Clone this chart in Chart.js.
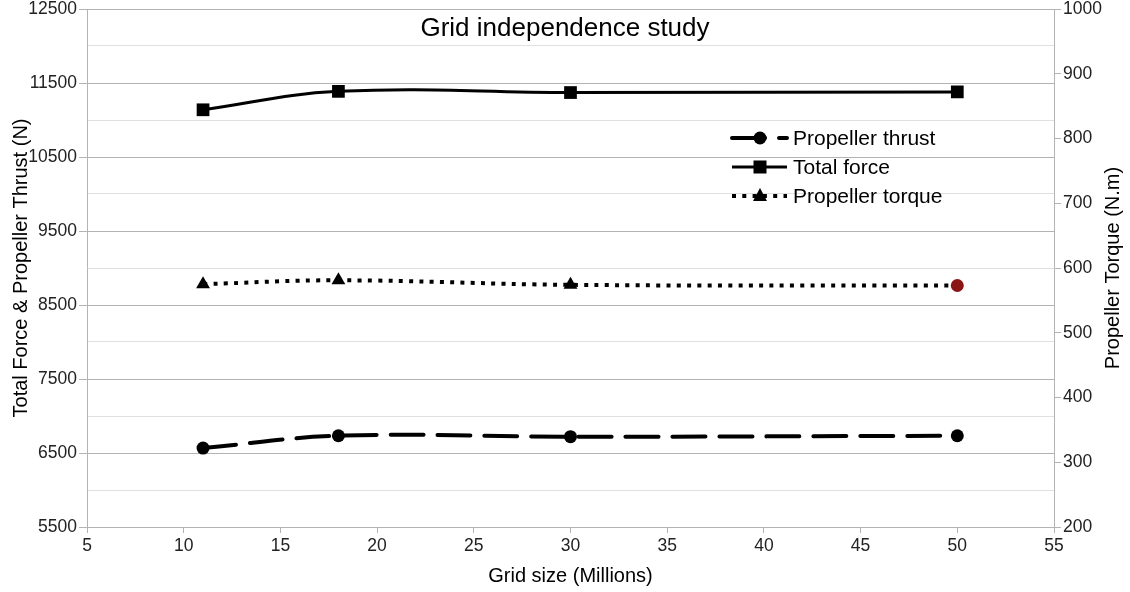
<!DOCTYPE html>
<html>
<head>
<meta charset="utf-8">
<title>Grid independence study</title>
<script src="https://cdn.jsdelivr.net/npm/chart.js@4.4.1/dist/chart.umd.min.js"></script>
<style>
  html, body { margin: 0; padding: 0; background: #fff; }
  #wrap { width: 1130px; height: 592px; }
</style>
</head>
<body>
<div id="wrap"><canvas id="chart" width="1130" height="592"></canvas></div>
<script>
// data
const gridSizes = [11, 18, 30, 50];
const thrust = [6567, 6733, 6720, 6733];
const totalForce = [11138, 11387, 11371, 11380];
const torque = [575, 581, 574, 573];

const FONT = "'Liberation Sans', Arial, sans-serif";
const MAJOR = '#b3b3b3';
const MINOR = '#e0e0e0';

// title, legend and right axis title drawn by hand
const overlayPlugin = {
  id: 'overlay',
  afterDraw(chart) {
    const ctx = chart.ctx;
    ctx.save();
    ctx.fillStyle = '#000';
    ctx.font = `26px ${FONT}`;
    ctx.textAlign = 'center';
    ctx.textBaseline = 'middle';
    ctx.fillText('Grid independence study', 565, 29);

    // right axis title reads bottom to top, like the left one
    const area = chart.chartArea;
    ctx.save();
    ctx.translate(1113, (area.top + area.bottom) / 2);
    ctx.rotate(-Math.PI / 2);
    ctx.font = `20px ${FONT}`;
    ctx.fillText('Propeller Torque (N.m)', 0, 0);
    ctx.restore();

    const rows = [138, 167, 196];
    chart.data.datasets.forEach((ds, i) => {
      const y = rows[i];
      ctx.save();
      ctx.strokeStyle = '#000';
      ctx.lineWidth = ds.borderWidth;
      ctx.setLineDash(ds.borderDash || []);
      ctx.lineCap = ds.borderCapStyle || 'butt';
      ctx.beginPath();
      ctx.moveTo(732, y);
      ctx.lineTo(787, y);
      ctx.stroke();
      ctx.restore();
      drawMarker(ctx, ds.legendStyle, 760, y);
      ctx.fillStyle = '#000';
      ctx.font = `21px ${FONT}`;
      ctx.textAlign = 'left';
      ctx.textBaseline = 'middle';
      ctx.fillText(ds.label, 793, y + 1);
    });
    ctx.restore();
  }
};

function drawMarker(ctx, style, x, y) {
  ctx.save();
  ctx.fillStyle = '#000';
  ctx.beginPath();
  if (style === 'circle') {
    ctx.arc(x, y, 6.5, 0, Math.PI * 2);
  } else if (style === 'rect') {
    ctx.rect(x - 6.5, y - 6.5, 13, 13);
  } else {
    ctx.moveTo(x, y - 8);
    ctx.lineTo(x + 7, y + 5);
    ctx.lineTo(x - 7, y + 5);
    ctx.closePath();
  }
  ctx.fill();
  ctx.restore();
}

const ctx = document.getElementById('chart').getContext('2d');
new Chart(ctx, {
  type: 'line',
  data: {
    datasets: [
      {
        label: 'Propeller thrust',
        data: gridSizes.map((x, i) => ({ x, y: thrust[i] })),
        yAxisID: 'y',
        borderColor: '#000',
        borderWidth: 4,
        borderDash: [33, 14],
        borderCapStyle: 'round',
        tension: 0.4,
        pointStyle: 'circle',
        pointRadius: 6.5,
        pointBackgroundColor: '#000',
        pointBorderColor: '#000',
        pointBorderWidth: 0,
        legendStyle: 'circle'
      },
      {
        label: 'Total force',
        data: gridSizes.map((x, i) => ({ x, y: totalForce[i] })),
        yAxisID: 'y',
        borderColor: '#000',
        borderWidth: 3,
        tension: 0.4,
        pointStyle: 'rect',
        pointRadius: 9,
        pointBackgroundColor: '#000',
        pointBorderColor: '#000',
        pointBorderWidth: 0,
        legendStyle: 'rect'
      },
      {
        label: 'Propeller torque',
        data: gridSizes.map((x, i) => ({ x, y: torque[i] })),
        yAxisID: 'y1',
        borderColor: '#000',
        borderWidth: 4,
        borderDash: [4, 6.3],
        tension: 0.4,
        pointStyle: ['triangle', 'triangle', 'triangle', 'circle'],
        pointRadius: [8, 8, 8, 6.5],
        pointBackgroundColor: ['#000', '#000', '#000', '#8b1414'],
        pointBorderColor: ['#000', '#000', '#000', '#7a1010'],
        pointBorderWidth: 0,
        legendStyle: 'triangle'
      }
    ]
  },
  options: {
    responsive: false,
    animation: false,
    layout: { padding: { top: 8, left: 0, right: 0, bottom: 0 } },
    plugins: {
      legend: { display: false },
      tooltip: { enabled: false }
    },
    scales: {
      x: {
        type: 'linear',
        min: 5,
        max: 55,
        ticks: { stepSize: 5, color: '#222', font: { family: FONT, size: 17.5 }, padding: 3, maxRotation: 0 },
        grid: { drawOnChartArea: false, drawTicks: true, tickLength: 6, color: MAJOR },
        border: { display: true, color: MAJOR },
        title: { display: true, text: 'Grid size (Millions)', color: '#000', font: { family: FONT, size: 20 }, padding: { top: 0, bottom: 4 } },
        afterFit(scale) {
          scale.height = 65;
          scale.paddingLeft = 0;
          scale.paddingRight = 0;
        }
      },
      y: {
        position: 'left',
        min: 5500,
        max: 12500,
        ticks: {
          stepSize: 500,
          color: '#222',
          font: { family: FONT, size: 17.5 },
          padding: 2,
          callback: v => ((v - 5500) % 1000 === 0 ? String(v) : '')
        },
        grid: {
          tickLength: 8,
          color: c => ((c.tick.value - 5500) % 1000 === 0 ? MAJOR : MINOR),
          tickColor: c => ((c.tick.value - 5500) % 1000 === 0 ? MAJOR : 'rgba(0,0,0,0)')
        },
        border: { display: true, color: MAJOR },
        title: { display: true, text: 'Total Force & Propeller Thrust (N)', color: '#000', font: { family: FONT, size: 20 }, padding: { top: 9, bottom: 0 } },
        afterFit(scale) {
          scale.width = 87;
          scale.paddingTop = 0;
          scale.paddingBottom = 0;
        }
      },
      y1: {
        position: 'right',
        min: 200,
        max: 1000,
        ticks: { stepSize: 100, color: '#222', font: { family: FONT, size: 17.5 }, padding: 2, callback: v => String(v) },
        grid: { drawOnChartArea: false, tickLength: 7, color: MAJOR },
        border: { display: true, color: MAJOR },
        title: { display: false },
        afterFit(scale) {
          scale.width = 76;
          scale.paddingTop = 0;
          scale.paddingBottom = 0;
        }
      }
    }
  },
  plugins: [overlayPlugin]
});
</script>
</body>
</html>
